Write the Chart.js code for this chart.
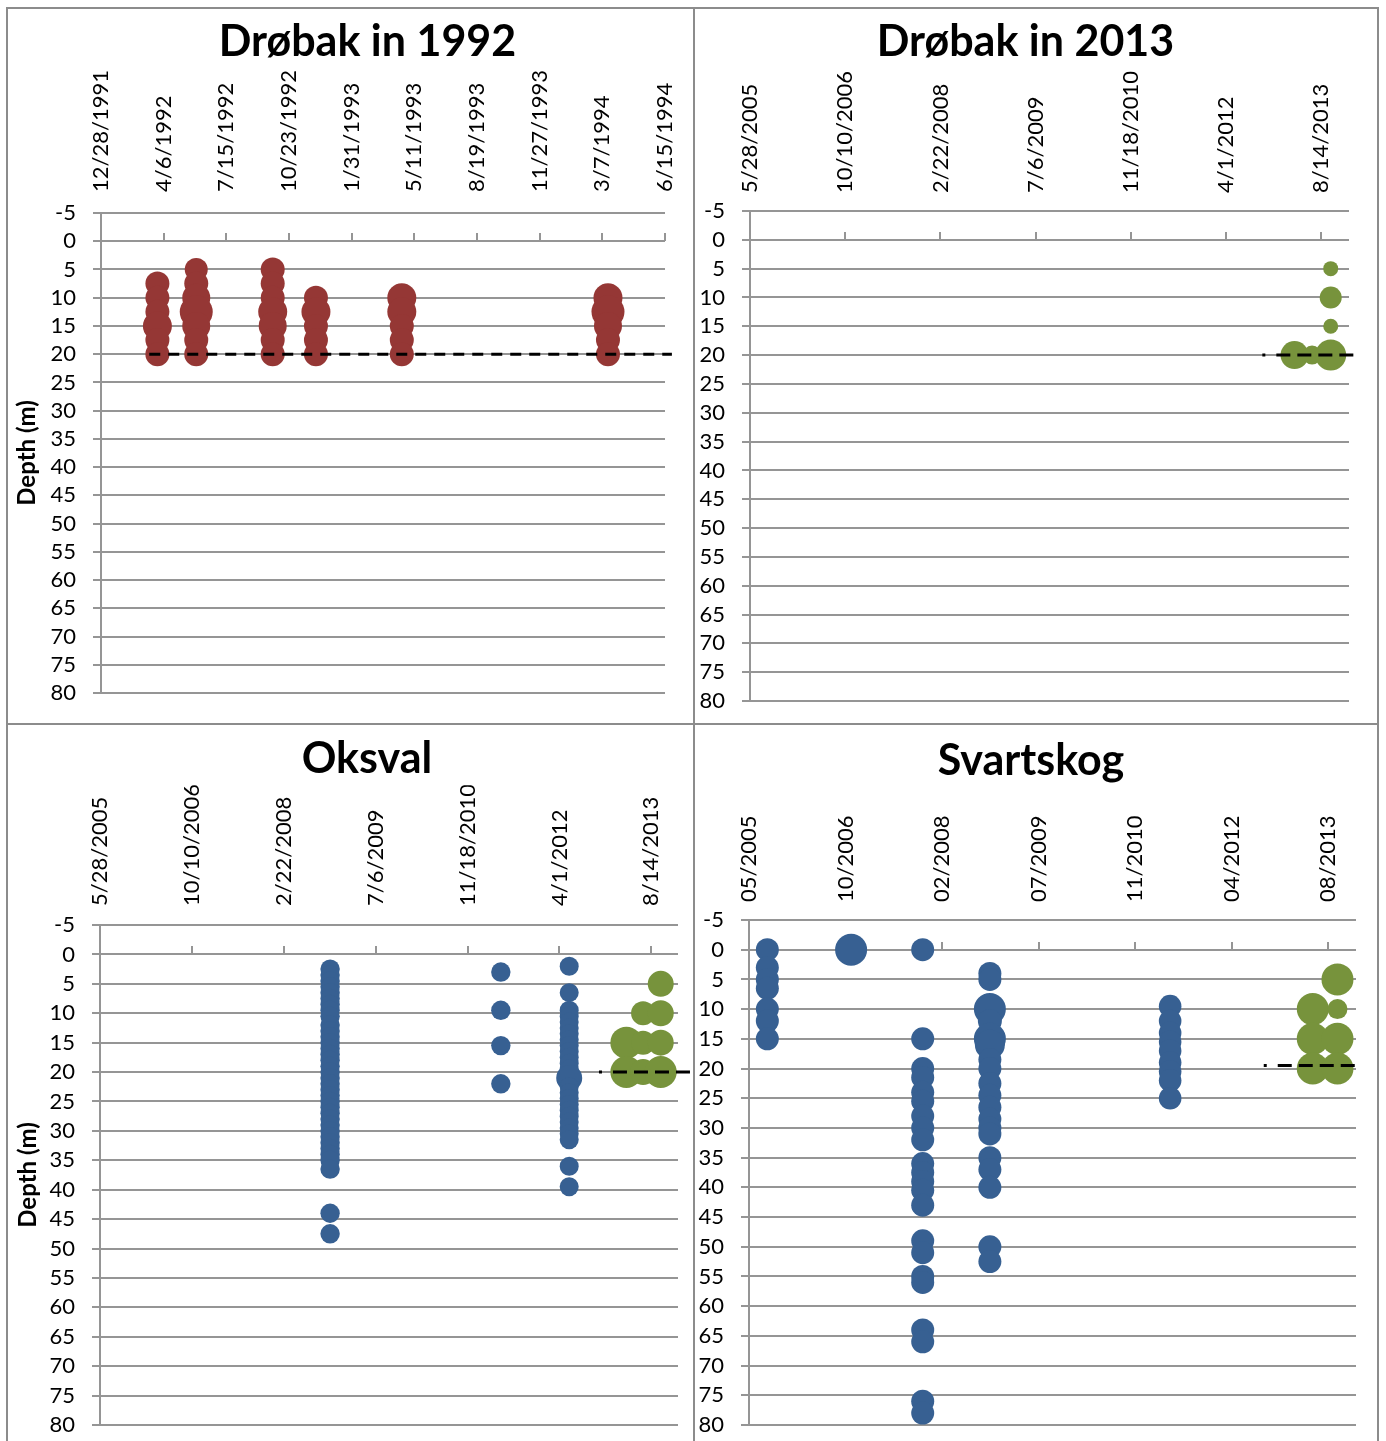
<!DOCTYPE html>
<html>
<head>
<meta charset="utf-8">
<script src="https://cdn.jsdelivr.net/npm/chart.js@4.4.0/dist/chart.umd.min.js"></script>
<style>
  body { margin: 0; background: #fff; width: 1386px; height: 1441px; overflow: hidden; position: relative; }
  .panel { position: absolute; box-sizing: border-box; border: 2px solid #8c8c8c; }
  canvas { position: absolute; }
</style>
</head>
<body>
<div class="panel" style="left:6px;top:7px;width:689px;height:718px"></div>
<div class="panel" style="left:693px;top:7px;width:686px;height:718px"></div>
<div class="panel" style="left:6px;top:723px;width:689px;height:730px"></div>
<div class="panel" style="left:693px;top:723px;width:686px;height:730px"></div>
<canvas id="drobak92" width="719" height="714" style="left:8px;top:9px"></canvas>
<canvas id="oksval" width="718" height="716" style="left:8px;top:725px"></canvas>
<canvas id="drobak13" width="685" height="714" style="left:683px;top:9px"></canvas>
<canvas id="svartskog" width="696" height="716" style="left:683px;top:725px"></canvas>
<script>
const FONT = 'Lato';
const TICK_SIZE = 22;
const GRID = '#959595';
const RED = '#953735';
const GREEN = '#77933C';
const BLUE = '#376092';

// x axes (dates) and their labelled ticks
const range1992 = ['12/28/1991', '6/15/1994'];
const ticks1992 = ['12/28/1991', '4/6/1992', '7/15/1992', '10/23/1992', '1/31/1993',
  '5/11/1993', '8/19/1993', '11/27/1993', '3/7/1994', '6/15/1994'];
const range2005 = ['5/28/2005', '1/6/2014'];
const ticks2005 = ['5/28/2005', '10/10/2006', '2/22/2008', '7/6/2009', '11/18/2010', '4/1/2012', '8/14/2013'];
const labelsSvartskog = ['05/2005', '10/2006', '02/2008', '07/2009', '11/2010', '04/2012', '08/2013'];

// Drøbak in 1992
const drobak92Dates = ['3/27/1992', '5/28/1992', '9/27/1992', '12/5/1992', '4/21/1993', '3/16/1994'];
const drobak92Depths = [
  [7.5, 10, 12.5, 15, 17.5, 20],
  [5, 7.5, 10, 12.5, 15, 17.5, 20],
  [5, 7.5, 10, 12.5, 15, 17.5, 20],
  [10, 12.5, 15, 17.5, 20],
  [10, 12.5, 15, 17.5, 20],
  [10, 12.5, 15, 17.5, 20]
];
const drobak92Sizes = [
  [12, 12, 12, 14.5, 12, 12],
  [11.5, 12, 14, 16.5, 14, 12, 12],
  [12, 12, 12, 14.5, 14, 12, 12],
  [12, 14.5, 12, 12, 12],
  [14.5, 14.5, 12, 12, 12],
  [14.5, 16.5, 14, 12, 12]
];
const drobak92LineDates = ['3/14/1992', '6/26/1994'];
const drobak92LineDepth = 20;

// Drøbak in 2013
const drobak13Dates = ['3/26/2013', '6/26/2013', '10/2/2013'];
const drobak13Depths = [[20], [20], [5, 10, 15, 20]];
const drobak13Sizes = [[14], [9.5], [7.5, 11, 7.5, 15.5]];
const drobak13LineDates = ['10/8/2012', '3/2/2014'];
const drobak13LineDepth = 20;

// Oksval
const oksvalBlueDates = ['10/31/2008', '5/18/2011', '5/24/2012'];
const oksvalBlueDepths = [
  [2.5, 3.5, 4.5, 5.5, 6.5, 7.5, 8.5, 9.5, 10.5, 12, 13, 14, 15, 16, 17, 18, 19, 20, 21, 22, 23, 24,
    25, 26, 27, 28, 29, 30, 31, 32, 33, 34, 35, 36.5, 44, 47.5],
  [3, 9.5, 15.5, 22],
  [2, 6.5, 9.5, 10.5, 11.5, 12.5, 13.5, 14.5, 15.5, 16.5, 17.5, 18.5, 19.5, 21, 22.5, 23.5, 24.5,
    25.5, 26.5, 27.5, 28.5, 29.5, 30.5, 31.5, 36, 39.5]
];
const oksvalBlueSizes = [9.7, 9.7, 9.5];
const oksvalBlueBig = [[], [], [21]];
const oksvalGreenDates = ['3/31/2013', '6/30/2013', '10/4/2013'];
const oksvalGreenDepths = [[15, 20], [10, 15, 20], [5, 10, 15, 20]];
const oksvalGreenSizes = [[16, 16], [12, 12, 13], [13, 13, 13, 16]];
const oksvalLineDates = ['11/2/2012', '4/7/2014'];
const oksvalLineDepth = 20;

// Svartskog
const svartskogBlueDates = ['8/31/2005', '11/8/2006', '11/14/2007', '10/27/2008', '5/19/2011'];
const svartskogBlueDepths = [
  [0, 3, 5, 6.5, 10, 12, 15],
  [0],
  [0, 15, 20, 21.5, 24, 25.5, 28, 30, 32, 36, 37.5, 39, 40.5, 43, 49, 51, 55, 56, 64, 66, 76, 78],
  [4, 5, 10, 12, 15, 16, 18.5, 20, 22.5, 24.5, 26.5, 28.5, 30, 31, 35, 37, 40, 50, 52.5],
  [9.5, 12, 14, 15.5, 17, 19, 20.5, 22, 25]
];
const svartskogBlueSizes = [
  11.5,
  16,
  11.5,
  [11.5, 11.5, 16, 12, 16, 15, 11.5, 11.5, 11.5, 11.5, 11.5, 11.5, 11.5, 11.5, 11.5, 11.5, 11.5, 11.5, 11.5],
  11.3
];
const svartskogGreenDates = ['5/27/2013', '10/2/2013'];
const svartskogGreenDepths = [[10, 15, 20], [5, 10, 15, 20]];
const svartskogGreenSizes = [[16, 16, 16], [16, 10, 16, 16]];
const svartskogLineDates = ['9/15/2012', '1/20/2014'];
const svartskogLineDepth = 19.5;

function toSerial(s) {
  const [m, d, y] = s.split('/').map(Number);
  return (Date.UTC(y, m - 1, d) - Date.UTC(1899, 11, 30)) / 864e5;
}

function bubbles(dates, depths, sizes, color, big) {
  const pts = [];
  dates.forEach((d, i) => {
    depths[i].forEach((y, j) => {
      let r = Array.isArray(sizes[i]) ? sizes[i][j] : sizes[i];
      if (big && big[i].includes(y)) r = 13;
      pts.push({ x: toSerial(d), y: y, r: r });
    });
  });
  return {
    data: pts,
    backgroundColor: color,
    borderWidth: 0,
    hoverRadius: 0,
    hoverBorderWidth: 0,
    clip: false,
    xAxisID: 'x',
    yAxisID: 'y'
  };
}

function dashLine(dates, depth, dash) {
  return {
    type: 'line',
    data: dates.map(d => ({ x: toSerial(d), y: depth })),
    borderColor: '#000',
    borderWidth: 3,
    borderDash: dash,
    pointRadius: 0,
    fill: false,
    clip: false,
    xAxisID: 'x',
    yAxisID: 'y'
  };
}

function makeChart(id, p) {
  const xMin = toSerial(p.range[0]);
  const xMax = toSerial(p.range[1]);
  const setTicks = s => { s.ticks = p.ticks.map(d => ({ value: toSerial(d) })); };
  return new Chart(document.getElementById(id), {
    type: 'bubble',
    data: { datasets: p.datasets },
    options: {
      responsive: false,
      animation: false,
      events: [],
      layout: { padding: { left: 0, right: 0, top: 0, bottom: p.padB } },
      plugins: {
        legend: { display: false },
        tooltip: { enabled: false },
        title: {
          display: true,
          text: p.title,
          color: '#000',
          font: { family: FONT, size: 43, weight: 'bold', lineHeight: 1.2 },
          padding: { top: p.titleTop, bottom: 0 }
        }
      },
      scales: {
        x: {
          type: 'linear',
          position: 'top',
          min: xMin,
          max: xMax,
          afterBuildTicks: setTicks,
          afterFit: s => { s.height = p.xHeight; },
          grid: { display: false, drawTicks: false },
          border: { display: false },
          ticks: {
            autoSkip: false,
            minRotation: 90,
            maxRotation: 90,
            padding: p.xPad,
            labelOffset: TICK_SIZE * 1.2,
            color: '#000',
            font: { family: FONT, size: TICK_SIZE },
            callback: (v, i) => p.labels[i]
          }
        },
        // horizontal axis crossing at depth 0, only its tick marks
        xz: {
          type: 'linear',
          axis: 'x',
          position: { y: 0 },
          min: xMin,
          max: xMax,
          afterBuildTicks: setTicks,
          grid: { drawOnChartArea: false, color: GRID, lineWidth: 2, tickLength: -8 },
          border: { display: false },
          ticks: { display: false }
        },
        y: {
          type: 'linear',
          reverse: true,
          min: -5,
          max: 80,
          afterFit: s => {
            s.width = p.yWidth;
            s.paddingTop = 0;
            s.paddingBottom = 0;
          },
          grid: { color: GRID, lineWidth: 2, tickLength: 8 },
          border: { color: GRID, width: 2 },
          ticks: {
            stepSize: 5, autoSkip: false, padding: 17, color: '#000',
            font: { family: FONT, size: TICK_SIZE }
          },
          title: {
            display: p.yTitle,
            text: 'Depth (m)',
            color: '#000',
            font: { family: FONT, size: 24, weight: 'bold', lineHeight: 1.2 },
            padding: { top: p.yTitlePad, bottom: 0 }
          }
        },
        // empty right-hand box so the title centres like the original
        yr: {
          type: 'linear',
          position: 'right',
          afterFit: s => { s.width = p.rightW; },
          grid: { display: false, drawTicks: false },
          border: { display: false },
          ticks: { display: false }
        }
      }
    }
  });
}

const dotDash = [3, 11, 14, 7, 14, 7, 14, 7, 14, 7, 14, 7];

makeChart('drobak92', {
  title: 'Drøbak in 1992',
  range: range1992, ticks: ticks1992, labels: ticks1992,
  datasets: [
    dashLine(drobak92LineDates, drobak92LineDepth, [11, 8]),
    bubbles(drobak92Dates, drobak92Depths, drobak92Sizes, RED)
  ],
  rightW: 62, padB: 30, yWidth: 93, titleTop: 7.7, xHeight: 144.7, xPad: 21,
  yTitle: true, yTitlePad: 5
});

makeChart('oksval', {
  title: 'Oksval',
  range: range2005, ticks: ticks2005, labels: ticks2005,
  datasets: [
    dashLine(oksvalLineDates, oksvalLineDepth, dotDash),
    bubbles(oksvalGreenDates, oksvalGreenDepths, oksvalGreenSizes, GREEN),
    bubbles(oksvalBlueDates, oksvalBlueDepths, oksvalBlueSizes, BLUE, oksvalBlueBig)
  ],
  rightW: 48, padB: 16, yWidth: 92, titleTop: 8.7, xHeight: 139.7, xPad: 19,
  yTitle: true, yTitlePad: 5.6
});

makeChart('drobak13', {
  title: 'Drøbak in 2013',
  range: range2005, ticks: ticks2005, labels: ticks2005,
  datasets: [
    dashLine(drobak13LineDates, drobak13LineDepth, dotDash),
    bubbles(drobak13Dates, drobak13Depths, drobak13Sizes, GREEN)
  ],
  rightW: 19, padB: 22, yWidth: 67, titleTop: 7.7, xHeight: 142.7, xPad: 18,
  yTitle: false, yTitlePad: 0
});

makeChart('svartskog', {
  title: 'Svartskog',
  range: range2005, ticks: ticks2005, labels: labelsSvartskog,
  datasets: [
    dashLine(svartskogLineDates, svartskogLineDepth, dotDash),
    bubbles(svartskogGreenDates, svartskogGreenDepths, svartskogGreenSizes, GREEN),
    bubbles(svartskogBlueDates, svartskogBlueDepths, svartskogBlueSizes, BLUE)
  ],
  rightW: 23, padB: 15, yWidth: 66, titleTop: 10.2, xHeight: 133.2, xPad: 18,
  yTitle: false, yTitlePad: 0
});
</script>
</body>
</html>
